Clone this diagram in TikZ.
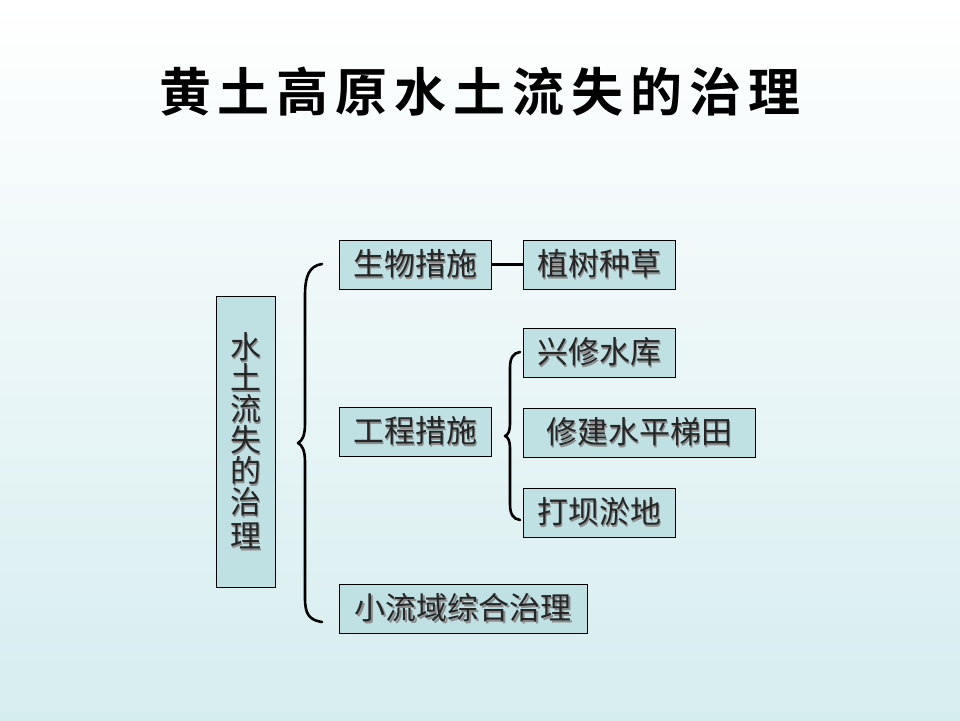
\documentclass[tikz,border=0pt]{standalone}
\usepackage{fontspec}
\usetikzlibrary{calc}
\setmainfont{Noto Sans CJK SC}
\newfontfamily\titlefont{Noto Sans CJK SC Bold}
\definecolor{boxfill}{HTML}{BFE1E4}
\definecolor{bgtop}{HTML}{FFFFFF}
\definecolor{bgbot}{HTML}{D6EDEF}
\newcommand{\shd}[1]{\makebox[0pt][l]{\hspace{1.6pt}\raisebox{-1.6pt}{\textcolor{black!45}{#1}}}\textcolor{black!85}{#1}}
\newcommand{\tsp}{\hspace{7pt}}
\begin{document}
\begin{tikzpicture}[x=1pt,y=-1pt,
  boxnode/.style={draw=black,line width=0.9pt,fill=boxfill,inner sep=0pt,font=\fontsize{31}{34}\selectfont},
  brace/.style={line width=2.6pt,line cap=round,line join=round}]
\useasboundingbox (0,0) rectangle (960,720);
\shade[top color=bgtop,bottom color=bgbot] (0,0) rectangle (960,720);
\node (title) at (480,92) {\titlefont\fontsize{52}{58}\selectfont 黄\tsp 土\tsp 高\tsp 原\tsp 水\tsp 土\tsp 流\tsp 失\tsp 的\tsp 治\tsp 理};
% boxes
\node[boxnode,minimum width=59pt,minimum height=291pt,text width=34pt,align=center] (root) at (245.5,441.5) {\fontsize{31}{31}\selectfont\shd{水}\\\shd{土}\\\shd{流}\\\shd{失}\\\shd{的}\\\shd{治}\\\shd{理}};
\node[boxnode,minimum width=152pt,minimum height=49pt] (bio) at (415,264.5) {\shd{生物措施}};
\node[boxnode,minimum width=152pt,minimum height=49pt] (plant) at (599,264.5) {\shd{植树种草}};
\node[boxnode,minimum width=152pt,minimum height=49pt] (eng) at (415,431.5) {\shd{工程措施}};
\node[boxnode,minimum width=152pt,minimum height=49pt] (res) at (599,352.5) {\shd{兴修水库}};
\node[boxnode,minimum width=232pt,minimum height=49pt] (terr) at (639,432.5) {\shd{修建水平梯田}};
\node[boxnode,minimum width=152pt,minimum height=49pt] (dam) at (599,512.5) {\shd{打坝淤地}};
\node[boxnode,minimum width=248pt,minimum height=49pt] (small) at (463,608.5) {\shd{小流域综合治理}};
% connector bio - plant
\draw[line width=2.6pt] (bio.east) -- (plant.west);
% big brace
\draw[brace] (322,264) .. controls (309,266) and (305,276) .. (305,296) -- (305,424)
  .. controls (305,436) and (302,441) .. (298,443)
  .. controls (302,445) and (305,450) .. (305,462) -- (305,598)
  .. controls (305,614) and (309,620) .. (322,622);
% small brace
\draw[brace] (520,352) .. controls (513,353) and (510,358) .. (510,368) -- (510,424)
  .. controls (510,431) and (508,435) .. (505,436)
  .. controls (508,437) and (510,441) .. (510,448) -- (510,504)
  .. controls (510,514) and (513,519) .. (520,520);
\end{tikzpicture}
\end{document}
